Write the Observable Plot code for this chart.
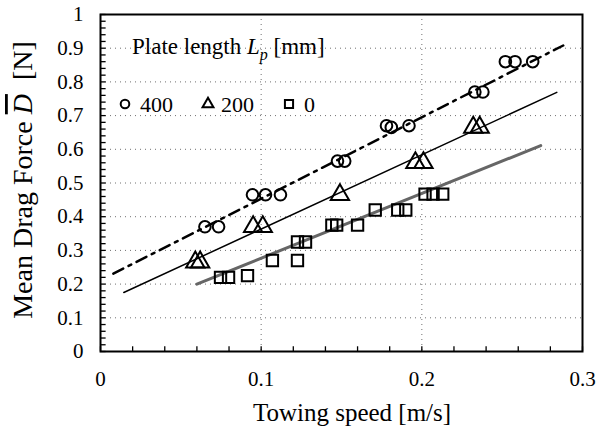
<!DOCTYPE html>
<html>
<head>
<meta charset="utf-8">
<script src="https://cdn.jsdelivr.net/npm/d3@7"></script>
<script src="https://cdn.jsdelivr.net/npm/@observablehq/plot@0.6"></script>
<style>
  html, body { margin: 0; padding: 0; background: #fff; }
  #chart { width: 596px; height: 433px; }
</style>
</head>
<body>
<div id="chart"></div>
<script>
// ---- data ----
const xTicks = [0, 0.1, 0.2, 0.3];
const yTicks = [0, 0.1, 0.2, 0.3, 0.4, 0.5, 0.6, 0.7, 0.8, 0.9, 1];
const xGrid = [0.1, 0.2];
const yGrid = [0.1, 0.2, 0.3, 0.4, 0.5, 0.6, 0.7, 0.8, 0.9];

// Lp = 400 mm (circles)
const speed400 = [0.065, 0.0735, 0.0946, 0.1027, 0.112, 0.1475, 0.152, 0.178, 0.181, 0.192, 0.233, 0.238, 0.252, 0.258, 0.269];
const drag400  = [0.37, 0.37, 0.465, 0.465, 0.465, 0.565, 0.565, 0.67, 0.665, 0.67, 0.77, 0.77, 0.86, 0.86, 0.86];
// Lp = 200 mm (triangles)
const speed200 = [0.059, 0.062, 0.095, 0.101, 0.149, 0.196, 0.201, 0.232, 0.236];
const drag200  = [0.265, 0.265, 0.37, 0.37, 0.465, 0.56, 0.56, 0.665, 0.665];
// Lp = 0 mm (squares)
const speed0 = [0.0747, 0.0797, 0.0915, 0.107, 0.1226, 0.1276, 0.1226, 0.144, 0.147, 0.16, 0.171, 0.185, 0.19, 0.202, 0.207, 0.213];
const drag0  = [0.22, 0.22, 0.225, 0.27, 0.325, 0.325, 0.27, 0.375, 0.375, 0.375, 0.42, 0.42, 0.42, 0.467, 0.467, 0.467];

// fitted lines (end points)
const fit400x = [0.008, 0.288], fit400y = [0.231, 0.908];
const fit200x = [0.0145, 0.284], fit200y = [0.175, 0.769];
const fit0x   = [0.06, 0.274],  fit0y   = [0.2, 0.611];

const legendLabels = ["400", "200", "0"];

// ---- build tables ----
const zip = (xs, ys) => xs.map((x, i) => ({x, y: ys[i]}));
const pts400 = zip(speed400, drag400);
const pts200 = zip(speed200, drag200);
const pts0 = zip(speed0, drag0);
const line400 = zip(fit400x, fit400y);
const line200 = zip(fit200x, fit200y);
const line0 = zip(fit0x, fit0y);
const xMinor = d3.range(0, 0.3001, 0.02).map(v => +v.toFixed(2));
const yMinor = d3.range(0, 1.0001, 0.02).map(v => +v.toFixed(2));
const fmt = d => String(+(+d).toFixed(1));

const font = "'Liberation Serif', 'Times New Roman', serif";

const chart = Plot.plot({
  width: 596,
  height: 433,
  marginLeft: 100,
  marginRight: 14,
  marginTop: 14,
  marginBottom: 82,
  style: {fontFamily: font, fontSize: "21px", background: "#fff", color: "#000"},
  x: {domain: [0, 0.3], label: null},
  y: {domain: [0, 1], label: null},
  marks: [
    Plot.gridY(yGrid, {stroke: "#333", strokeOpacity: 0.7, strokeDasharray: "1,4"}),
    Plot.gridX(xGrid, {stroke: "#333", strokeOpacity: 0.7, strokeDasharray: "1,4"}),
    Plot.ruleX(xMinor, {y1: 0, y2: 0.014, stroke: "#000", strokeWidth: 1.3}),
    Plot.ruleY(yMinor, {x1: 0, x2: 0.0035, stroke: "#000", strokeWidth: 1.3}),
    Plot.axisX({ticks: xTicks, tickSize: 0, tickPadding: 20, tickFormat: fmt, fontSize: 21, label: null}),
    Plot.axisY({ticks: yTicks, tickSize: 0, tickPadding: 17, tickFormat: fmt, fontSize: 21, label: null}),
    Plot.frame({stroke: "#000", strokeWidth: 2}),
    Plot.line(line0, {x: "x", y: "y", stroke: "#666", strokeWidth: 3}),
    Plot.line(line200, {x: "x", y: "y", stroke: "#000", strokeWidth: 1.5}),
    Plot.line(line400, {x: "x", y: "y", stroke: "#000", strokeWidth: 2.5, strokeDasharray: "11,6,3,6"}),
    Plot.dot(pts400, {x: "x", y: "y", symbol: "circle", r: 5.8, stroke: "#000", strokeWidth: 2, fill: "none"}),
    Plot.dot(pts200, {x: "x", y: "y", symbol: "triangle", r: 6.8, stroke: "#000", strokeWidth: 2, fill: "none"}),
    Plot.dot(pts0, {x: "x", y: "y", symbol: "square", r: 6.4, stroke: "#000", strokeWidth: 2, fill: "none"})
  ]
});

document.getElementById("chart").appendChild(chart);

// ---- titles & legend drawn into the same SVG ----
const svg = d3.select(chart);

// Y title: Mean Drag Force D̄ [N]
const yt = svg.append("text")
  .attr("transform", "translate(32,180) rotate(-90)")
  .attr("text-anchor", "middle")
  .attr("font-family", font)
  .attr("font-size", 28)
  .attr("fill", "#000");
yt.append("tspan").text("Mean Drag Force ");
yt.append("tspan").attr("font-style", "italic").attr("text-decoration", "overline").text("D");
yt.append("tspan").text("  [N]");

// X title
svg.append("text")
  .attr("x", 352).attr("y", 421)
  .attr("text-anchor", "middle")
  .attr("font-family", font)
  .attr("font-size", 25)
  .attr("fill", "#000")
  .text("Towing speed [m/s]");

// Legend heading: Plate length Lp [mm]
const lh = svg.append("text")
  .attr("x", 132).attr("y", 54)
  .attr("text-anchor", "start")
  .attr("font-family", font)
  .attr("font-size", 23)
  .attr("fill", "#000");
lh.append("tspan").text("Plate length ");
lh.append("tspan").attr("font-style", "italic").text("L");
lh.append("tspan").attr("font-style", "italic").attr("font-size", 16).attr("dy", 6).text("p");
lh.append("tspan").attr("dy", -6).text(" [mm]");

// Legend items
const legSymbols = [d3.symbolCircle, d3.symbolTriangle2, d3.symbolSquare];
const legSymX = [125, 208, 289];
const legTextX = [140, 221, 304];
const legSize = [Math.PI * 4.3 * 4.3, Math.PI * 5.2 * 5.2, Math.PI * 4.6 * 4.6];
legendLabels.forEach((lab, i) => {
  svg.append("path")
    .attr("d", d3.symbol(legSymbols[i], legSize[i])())
    .attr("transform", `translate(${legSymX[i]},104)`)
    .attr("fill", "none").attr("stroke", "#000").attr("stroke-width", 2);
  svg.append("text")
    .attr("x", legTextX[i]).attr("y", 112)
    .attr("text-anchor", "start")
    .attr("font-family", font).attr("font-size", 22).attr("fill", "#000")
    .text(lab);
});
</script>
</body>
</html>
